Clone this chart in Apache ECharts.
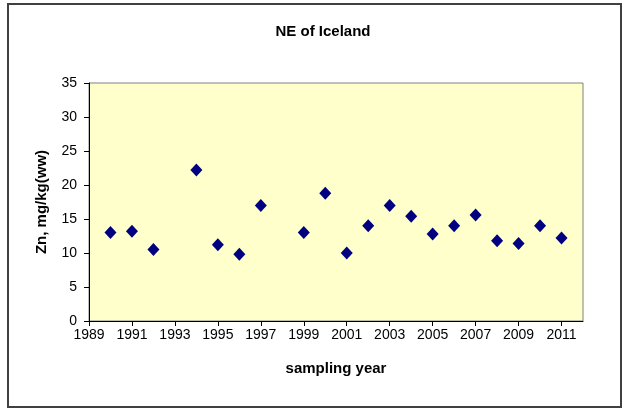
<!DOCTYPE html>
<html>
<head>
<meta charset="utf-8">
<script src="https://cdn.jsdelivr.net/npm/echarts@6/dist/echarts.min.js"></script>
<style>
html,body{margin:0;padding:0;background:#fff;}
#c{width:622px;height:409px;}
</style>
</head>
<body>
<div id="c"></div>
<script>
const years = [1990,1991,1992,1994,1995,1996,1997,1999,2000,2001,2002,2003,2004,2005,2006,2007,2008,2009,2010,2011];
const znValues = [13.0,13.2,10.5,22.2,11.2,9.8,17.0,13.0,18.8,10.0,14.0,17.0,15.4,12.8,14.0,15.6,11.8,11.4,14.0,12.2];
const xTickLabels = [1989,1991,1993,1995,1997,1999,2001,2003,2005,2007,2009,2011];
const yTickLabels = [0,5,10,15,20,25,30,35];

const chart = echarts.init(document.getElementById('c'));
const font = 'Liberation Sans, Arial, sans-serif';
chart.setOption({
  animation: false,
  backgroundColor: '#ffffff',
  title: {
    text: 'NE of Iceland',
    left: 318, top: 19, textAlign: 'center',
    textStyle: {fontFamily: font, fontSize: 15, fontWeight: 'bold', color: '#000'}
  },
  grid: {
    left: 89, top: 83, width: 494, height: 238,
    show: true, backgroundColor: '#FFFFCC', borderColor: '#808080', borderWidth: 1
  },
  xAxis: {
    type: 'value', min: 1989, max: 2012,
    name: 'sampling year', nameLocation: 'middle', nameGap: 40,
    nameTextStyle: {fontFamily: font, fontSize: 15, fontWeight: 'bold', color: '#000'},
    axisLine: {show: true, onZero: false, lineStyle: {color: '#000', width: 1}},
    axisTick: {show: true, length: 5, lineStyle: {color: '#000'}, customValues: xTickLabels},
    axisLabel: {color: '#000', fontFamily: font, fontSize: 14, margin: 7, customValues: xTickLabels,
      formatter: v => String(v)},
    splitLine: {show: false}
  },
  yAxis: {
    type: 'value', min: 0, max: 35, interval: 5,
    name: 'Zn, mg/kg(ww)', nameLocation: 'middle', nameGap: 40, nameRotate: 90,
    nameTextStyle: {fontFamily: font, fontSize: 15, fontWeight: 'bold', color: '#000'},
    axisLine: {show: true, lineStyle: {color: '#000', width: 1}},
    axisTick: {show: true, length: 5, lineStyle: {color: '#000'}},
    axisLabel: {color: '#000', fontFamily: font, fontSize: 14, margin: 12,
      customValues: yTickLabels, formatter: v => String(v)},
    splitLine: {show: false}
  },
  series: [{
    type: 'scatter',
    data: years.map((y, i) => [y, znValues[i]]),
    symbol: 'diamond',
    symbolSize: [12, 13],
    itemStyle: {color: '#000080', opacity: 1}
  }],
  graphic: [{
    type: 'rect', silent: true,
    shape: {x: 8, y: 4, width: 613, height: 403},
    style: {fill: 'none', stroke: '#404040', lineWidth: 2}
  }]
});
</script>
</body>
</html>
